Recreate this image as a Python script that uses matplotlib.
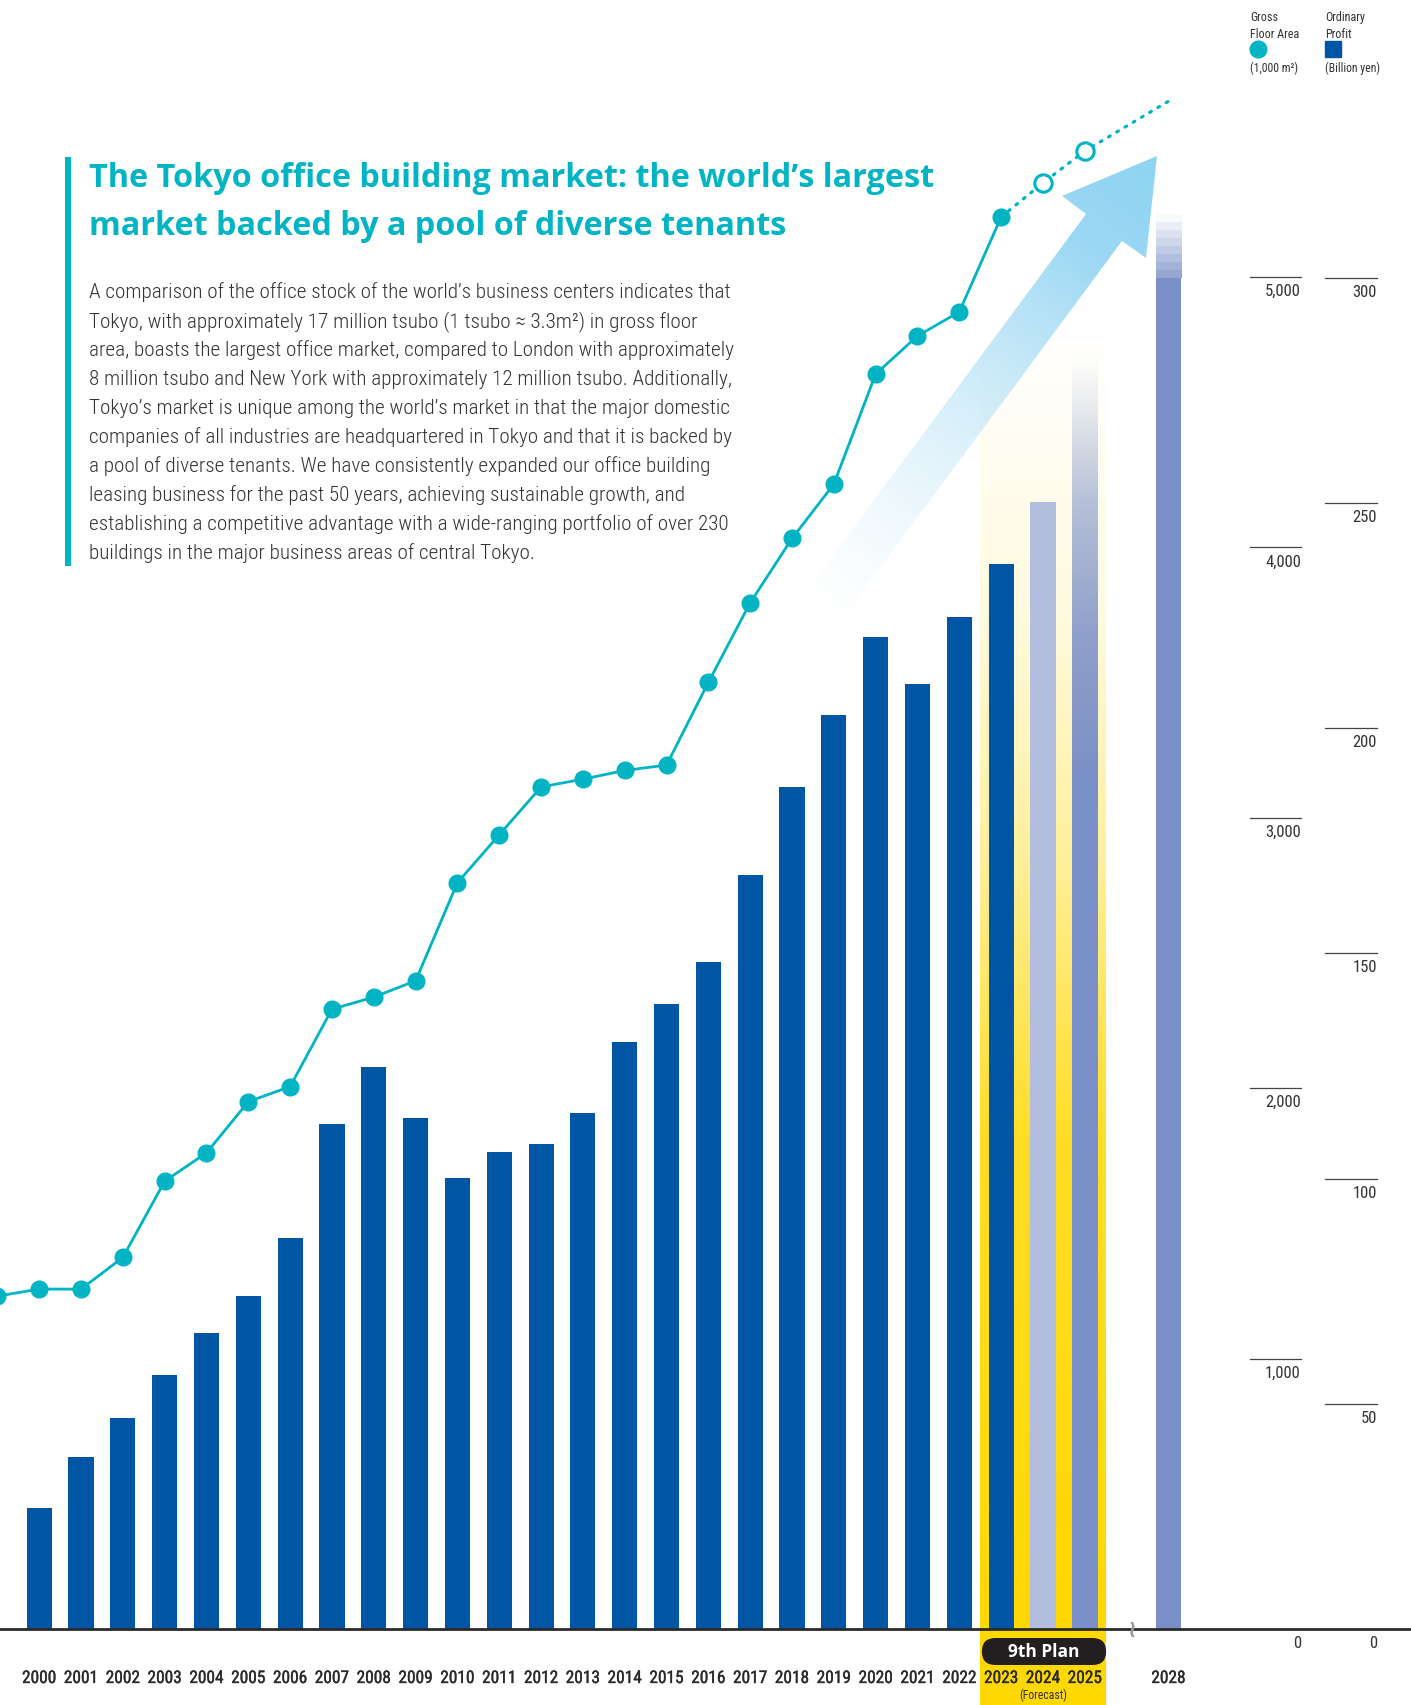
import numpy as np
import matplotlib
matplotlib.use("Agg")
import matplotlib.pyplot as plt
from matplotlib import font_manager as fm
from matplotlib.patches import Polygon, FancyBboxPatch
from matplotlib.lines import Line2D
import matplotlib.transforms as mtransforms
import matplotlib.patheffects as pe
from matplotlib.colors import to_rgb

# ---------------- data ----------------
bar_years = ["2000", "2001", "2002", "2003", "2004", "2005", "2006", "2007", "2008",
             "2009", "2010", "2011", "2012", "2013", "2014", "2015", "2016", "2017",
             "2018", "2019", "2020", "2021", "2022", "2023", "2024", "2025", "2028"]
bar_slots = [0, 1, 2, 3, 4, 5, 6, 7, 8, 9, 10, 11, 12, 13, 14, 15, 16, 17, 18, 19,
             20, 21, 22, 23, 24, 25, 27]
profit = [26.8, 38.2, 46.9, 56.3, 65.7, 74.0, 86.8, 112.2, 124.7, 113.4, 100.1, 105.9,
          107.6, 114.6, 130.3, 138.7, 148.2, 167.5, 186.9, 203.0, 220.2, 209.8, 224.6,
          236.4, 250.2, 283.0, 300.0]
profit_2028_upper = 314.0

gfa_years = [1999, 2000, 2001, 2002, 2003, 2004, 2005, 2006, 2007, 2008, 2009, 2010,
             2011, 2012, 2013, 2014, 2015, 2016, 2017, 2018, 2019, 2020, 2021, 2022,
             2023, 2024, 2025]
gfa = [1231, 1257, 1257, 1374, 1656, 1761, 1950, 2006, 2292, 2337, 2397, 2760, 2937,
       3114, 3143, 3175, 3195, 3501, 3795, 4033, 4234, 4641, 4782, 4871, 5222, 5348, 5466]
gfa_trend_end = 5650  # dotted continuation toward 2028

gfa_ticks = [1000, 2000, 3000, 4000, 5000]
profit_ticks = [50, 100, 150, 200, 250, 300]

title_lines = ["The Tokyo office building market: the world\u2019s largest",
               "market backed by a pool of diverse tenants"]
body_lines = [
    "A comparison of the office stock of the world\u2019s business centers indicates that",
    "Tokyo, with approximately 17 million tsubo (1 tsubo \u2248 3.3m\u00b2) in gross floor",
    "area, boasts the largest office market, compared to London with approximately",
    "8 million tsubo and New York with approximately 12 million tsubo. Additionally,",
    "Tokyo\u2019s market is unique among the world\u2019s market in that the major domestic",
    "companies of all industries are headquartered in Tokyo and that it is backed by",
    "a pool of diverse tenants. We have consistently expanded our office building",
    "leasing business for the past 50 years, achieving sustainable growth, and",
    "establishing a competitive advantage with a wide-ranging portfolio of over 230",
    "buildings in the major business areas of central Tokyo.",
]

# ---------------- style ----------------
TEAL = "#00B4C4"
BLUE = "#0055A5"
LIGHT = "#B3BEDE"
MID = "#7B90C8"
YELLOW = "#FFD800"
TXT = "#333333"


def pick(cands):
    for c in cands:
        try:
            fm.findfont(fm.FontProperties(family=c), fallback_to_default=False)
            return c
        except Exception:
            pass
    return "DejaVu Sans"


COND = pick(["Liberation Sans Narrow", "Roboto Condensed", "Roboto"])
BOLD = pick(["Open Sans", "Noto Sans", "DejaVu Sans"])

W, H = 1411, 1706
fig = plt.figure(figsize=(W / 100, H / 100), dpi=100)
ax = fig.add_axes([0, 0, 1, 1])
ax2 = ax.twinx()
for a in (ax, ax2):
    a.axis("off")

BASE = 1630.0
P_PX = 4.504     # px per billion yen
G_PX = 0.2704    # px per 1,000 m2
XLIM = (-0.937, 32.8)
YLIM = (-(H - BASE) / P_PX, BASE / P_PX)
Y2LIM = (-(H - BASE) / G_PX, BASE / G_PX)


def fx(px):
    return px / W


def fy(py):
    return 1 - py / H


# ---- yellow band for the 9th plan ----
band_v = np.linspace(YLIM[0], 290, 400)
band_a = np.interp(band_v, [YLIM[0], 0, 110, 170, 225, 290], [1, 1, 0.85, 0.4, 0.13, 0])
band = np.zeros((len(band_v), 1, 4))
band[..., :3] = to_rgb(YELLOW)
band[:, 0, 3] = band_a
ax.imshow(band, extent=[22.5, 25.5, YLIM[0], 290], origin="lower", aspect="auto",
          interpolation="bilinear", zorder=0)

# ---- decorative arrow ----
arrow_px = np.array([(801, 600), (1086, 215), (1062, 197), (1157, 157),
                     (1146, 259), (1122, 242), (837, 627)], dtype=float)
poly = Polygon(np.column_stack([fx(arrow_px[:, 0]), fy(arrow_px[:, 1])]), closed=True,
               transform=ax.transAxes, facecolor="none", edgecolor="none")
ax.add_patch(poly)
gx = np.linspace(780, 1170, 300)
gy = np.linspace(650, 140, 380)
X, Y = np.meshgrid(gx, gy)
d = np.array([0.598, -0.801])
t = ((X - 819) * d[0] + (Y - 613) * d[1]) / 567.0
alpha = np.clip(t / 0.8, 0, 1) ** 1.1
c0 = np.array(to_rgb("#CBEBFA"))
c1 = np.array(to_rgb("#8FD3F3"))
tt = np.clip(t, 0, 1)[..., None]
rgba = np.zeros(X.shape + (4,))
rgba[..., :3] = c0 * (1 - tt) + c1 * tt
rgba[..., 3] = alpha
im = ax.imshow(rgba, extent=[fx(780), fx(1170), fy(650), fy(140)], origin="lower",
               transform=ax.transAxes, aspect="auto", interpolation="bilinear", zorder=1)
im.set_clip_path(poly)

# ---- bars ----
BW = 0.6
colors = [BLUE] * 24 + [LIGHT, None, None]
for slot, v, c in zip(bar_slots, profit, colors):
    if c is not None:
        ax.bar(slot, v, width=BW, color=c, zorder=2, linewidth=0)

# 2025: fading top
i25 = bar_years.index("2025")
v25 = profit[i25]
vv = np.linspace(0, v25, 300)
a25 = np.interp(vv, [0, 190, 221, 251, 273, v25], [1, 1, 0.85, 0.55, 0.15, 0.0])
g = np.zeros((len(vv), 1, 4))
g[..., :3] = to_rgb(MID)
g[:, 0, 3] = a25
ax.imshow(g, extent=[bar_slots[i25] - BW / 2, bar_slots[i25] + BW / 2, 0, v25],
          origin="lower", aspect="auto", interpolation="bilinear", zorder=2)

# 2028: solid plus banded fading cap
i28 = bar_years.index("2028")
ax.bar(bar_slots[i28], profit[i28], width=BW, color=MID, zorder=2, linewidth=0)
steps = 8
cap = np.zeros((steps, 1, 4))
cap[..., :3] = to_rgb(MID)
cap[:, 0, 3] = np.linspace(0.8, 0.04, steps)
ax.imshow(cap, extent=[bar_slots[i28] - BW / 2, bar_slots[i28] + BW / 2,
                       profit[i28], profit_2028_upper],
          origin="lower", aspect="auto", interpolation="nearest", zorder=2)

# ---- baseline and break mark ----
ax.axhline(0, color="#2a2a2a", lw=2.0, zorder=3)
ax.text(26.13, 0, "\u2240", fontsize=17, color="#9a9a9a", ha="center", va="center",
        fontweight="bold", zorder=4, family="DejaVu Sans")

# ---- gross floor area line ----
gx_slots = [y - 2000 for y in gfa_years]
n_solid = gfa_years.index(2023) + 1
ax2.plot(gx_slots[:n_solid], gfa[:n_solid], color=TEAL, lw=2.0, zorder=5,
         marker="o", ms=12, mfc=TEAL, mec=TEAL, solid_capstyle="round")
ax2.plot(gx_slots[n_solid - 1:] + [bar_slots[i28]], gfa[n_solid - 1:] + [gfa_trend_end],
         color=TEAL, lw=2.3, ls=(0, (0.6, 2.4)), dash_capstyle="round", zorder=5)
ax2.plot(gx_slots[n_solid:], gfa[n_solid:], ls="none", marker="o", ms=12.5,
         mfc="white", mec=TEAL, mew=2.2, zorder=6)

# ---- right-hand scales ----
t2 = ax2.get_yaxis_transform()
lab2 = mtransforms.offset_copy(t2, fig=fig, y=-6, units="dots")
for v in gfa_ticks:
    ax2.plot([fx(1250), fx(1301)], [v, v], color="#444444", lw=0.9, transform=t2)
for v in gfa_ticks + [0]:
    ax2.text(fx(1301), v, f"{v:,}", ha="right", va="top", transform=lab2,
             fontsize=12, color=TXT, family=COND)
t1 = ax.get_yaxis_transform()
lab1 = mtransforms.offset_copy(t1, fig=fig, y=-6, units="dots")
for v in profit_ticks:
    ax.plot([fx(1325), fx(1377)], [v, v], color="#444444", lw=0.9, transform=t1)
for v in profit_ticks + [0]:
    ax.text(fx(1377), v, f"{v}", ha="right", va="top", transform=lab1,
            fontsize=12, color=TXT, family=COND)

# ---- year labels ----
medium = [pe.withStroke(linewidth=0.25, foreground="#2a2a2a")]
for slot, yl in zip(bar_slots, bar_years):
    ax.text(slot, -(1684 - BASE) / P_PX, yl, ha="center", va="baseline", fontsize=12.5,
            color="#2a2a2a", family=COND, zorder=6, path_effects=medium)
ax.text(24, -(1699 - BASE) / P_PX, "(Forecast)", ha="center", va="baseline",
        fontsize=8.5, color=TXT, family=COND, zorder=6)

# 9th plan pill
ax.set_xlim(*XLIM)
ax.set_ylim(*YLIM)
ax2.set_xlim(*XLIM)
ax2.set_ylim(*Y2LIM)
x_px = W / (XLIM[1] - XLIM[0])
pill_h = 27 / P_PX
pill = FancyBboxPatch((22.54, -(1666 - BASE) / P_PX), 2.97, pill_h,
                      boxstyle="round,pad=0,rounding_size=%f" % (13.5 / x_px),
                      mutation_aspect=x_px / P_PX, facecolor="#231F20",
                      edgecolor="none", zorder=6)
ax.add_patch(pill)
ax.text(24.02, -(1652.5 - BASE) / P_PX, "9th Plan", ha="center", va="center",
        fontsize=12.5, fontweight="bold", color="white", family=BOLD, zorder=7)

# ---- legend ----
fig.text(fx(1250), fy(11), "Gross\nFloor Area", ha="left", va="top", fontsize=8.7,
         color=TXT, family=COND, linespacing=1.35)
fig.text(fx(1325), fy(11), "Ordinary\nProfit", ha="left", va="top", fontsize=8.7,
         color=TXT, family=COND, linespacing=1.35)
fig.add_artist(Line2D([fx(1258)], [fy(50)], marker="o", ms=12, mfc=TEAL, mec=TEAL,
                      ls="none", transform=fig.transFigure))
fig.add_artist(Line2D([fx(1333)], [fy(50)], marker="s", ms=11.5, mfc=BLUE, mec=BLUE,
                      ls="none", transform=fig.transFigure))
fig.text(fx(1250), fy(72), "(1,000 m\u00b2)", ha="left", va="baseline", fontsize=8.5,
         color=TXT, family=COND)
fig.text(fx(1325), fy(72), "(Billion yen)", ha="left", va="baseline", fontsize=8.5,
         color=TXT, family=COND)

# ---- title and body ----
fig.add_artist(plt.Rectangle((fx(65), fy(567)), fx(6), fy(158) - fy(567),
                             transform=fig.transFigure, color=TEAL, lw=0))
fig.text(fx(89), fy(187), title_lines[0], ha="left", va="baseline", fontsize=23.3,
         fontweight="bold", color=TEAL, family=BOLD)
fig.text(fx(89), fy(235), title_lines[1], ha="left", va="baseline", fontsize=23.3,
         fontweight="bold", color=TEAL, family=BOLD)
for k, line in enumerate(body_lines):
    fig.text(fx(89), fy(298 + 29.0 * k), line, ha="left", va="baseline", fontsize=15.2,
             color="#333333", family=COND, fontweight="light")

fig.savefig("out.png", dpi=100)
